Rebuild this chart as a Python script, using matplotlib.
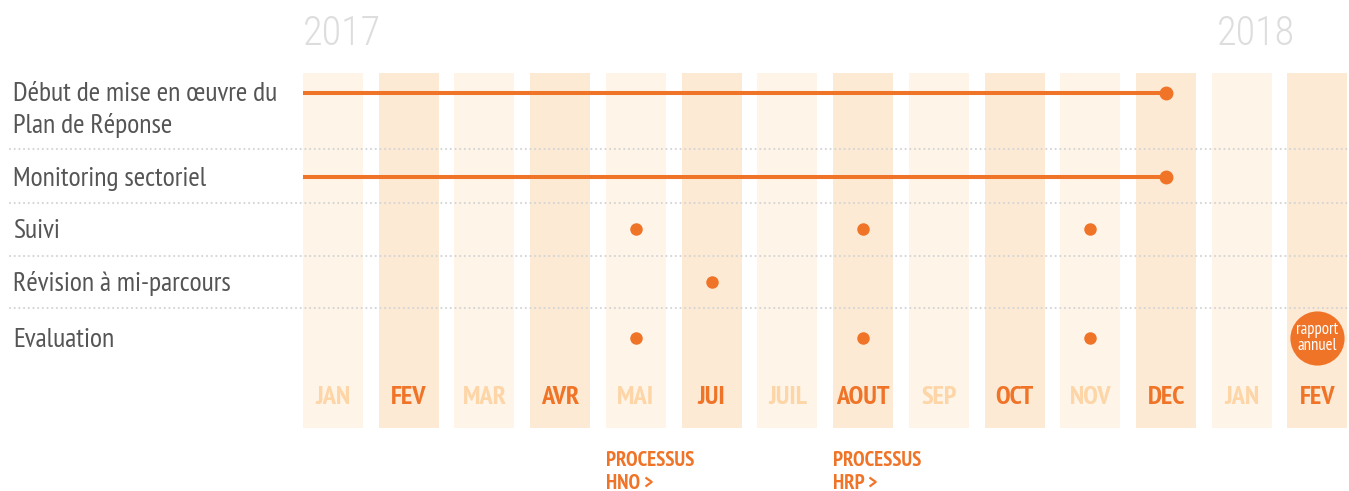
import matplotlib
matplotlib.use('Agg')
import matplotlib.pyplot as plt

# données
months = ['JAN', 'FEV', 'MAR', 'AVR', 'MAI', 'JUI', 'JUIL', 'AOUT', 'SEP', 'OCT', 'NOV', 'DEC', 'JAN', 'FEV']
years = ['2017', '2018']
rows = ['Début de mise en œuvre du\nPlan de Réponse', 'Monitoring sectoriel', 'Suivi',
        'Révision à mi-parcours', 'Evaluation']
# barres continues : (ligne, mois de fin)
spans = [(0, 11), (1, 11)]
# points ponctuels : ligne -> mois
points = {2: [4, 7, 10], 3: [5], 4: [4, 7, 10]}
report_month = 13
report_text = 'rapport\nannuel'
processes = [(4, 'PROCESSUS\nHNO >'), (7, 'PROCESSUS\nHRP >')]

# mise en page (pixels)
W, H = 1349, 491
pitch = 75.73
x0 = 333
col_w = 60
col_top, col_bot = 73, 428
row_y = [93, 177, 229, 282, 338]
label_y = [110, 179, 231, 284, 340]
sep_y = [149, 203, 256, 308]

ORANGE = '#F07428'
LIGHT_TXT = '#FDD5A6'
COL_A = '#FEF4E8'
COL_B = '#FDEAD4'
narrow = ['PT Sans Narrow', 'DejaVu Sans']
thin = ['Roboto Condensed', 'Roboto', 'DejaVu Sans']

fig = plt.figure(figsize=(W / 100, H / 100), dpi=100)
ax = fig.add_axes([0, 0, 1, 1])
ax.set_xlim(-x0 / pitch, (W - x0) / pitch)
ax.set_ylim(H, 0)
ax.axis('off')

# colonnes des mois
for i, m in enumerate(months):
    dark = i % 2 == 1
    ax.bar(i, col_bot - col_top, bottom=col_top, width=col_w / pitch,
           color=COL_B if dark else COL_A, zorder=1)
    ax.text(i, 397, m, ha='center', va='center', fontsize=19, fontweight='bold',
            family=narrow, color=ORANGE if dark else LIGHT_TXT, zorder=3)

# séparateurs pointillés
for y in sep_y:
    ax.plot([-x0 / pitch + 10 / pitch, (W - x0) / pitch], [y, y], color='#D6D6D6', lw=1.6,
            linestyle=(0, (0.01, 2.1)), dash_capstyle='round', zorder=2)

# libellés des lignes
for r, lab in enumerate(rows):
    ax.text(-x0 / pitch + 13 / pitch, label_y[r], lab, ha='left', va='center', fontsize=20,
            family=narrow, color='#555555', linespacing=1.37)

# barres continues
half = col_w / pitch / 2
for r, end in spans:
    ax.plot([-half, end], [row_y[r], row_y[r]], color=ORANGE, lw=2.9, zorder=4,
            solid_capstyle='butt')
    ax.plot(end, row_y[r], 'o', color=ORANGE, ms=9, zorder=5)

# points
for r, ms_list in points.items():
    for m in ms_list:
        ax.plot(m, row_y[r], 'o', color=ORANGE, ms=9, mec='none', zorder=5)

# rapport annuel
ax.plot(report_month, row_y[4], 'o', color=ORANGE, ms=39, mec='none', zorder=5)
ax.text(report_month, row_y[4], report_text, ha='center', va='center', fontsize=12,
        family=narrow, color='white', linespacing=1.05, zorder=6)

# années
ax.text(-half, 34, years[0], ha='left', va='center', fontsize=29, color='#DDDDDD',
        family=thin, fontweight='light')
ax.text(13 - half + 8 / pitch, 34, years[1], ha='right', va='center', fontsize=29,
        color='#DDDDDD', family=thin, fontweight='light')

# processus
for m, txt in processes:
    ax.text(m - half, 472, txt, ha='left', va='center', fontsize=15, fontweight='bold',
            family=narrow, color=ORANGE, linespacing=1.22)

fig.savefig('out.png', dpi=100)
